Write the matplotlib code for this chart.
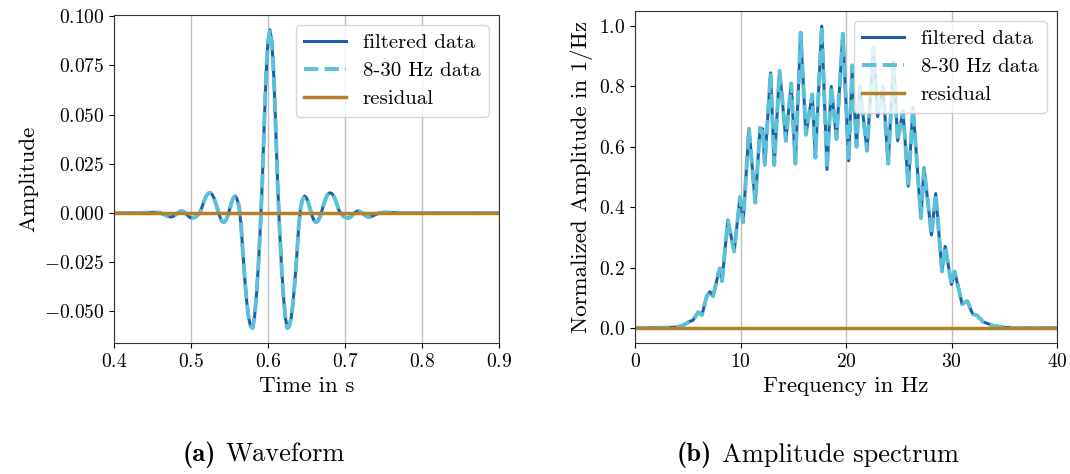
import numpy as np
import matplotlib
matplotlib.use("Agg")
import matplotlib.pyplot as plt
from matplotlib.font_manager import FontProperties

plt.rcParams['font.family'] = 'serif'
plt.rcParams['font.serif'] = ['cmr10']
plt.rcParams['mathtext.fontset'] = 'cm'
plt.rcParams['axes.formatter.use_mathtext'] = True

# waveform (time in s, amplitude)
t = [0.400, 0.430, 0.445, 0.4525, 0.460, 0.465,
     0.4700, 0.4725, 0.4750, 0.4775, 0.4800, 0.4825, 0.4850, 0.4875, 0.4900, 0.4925,
     0.4950, 0.4975, 0.5000, 0.5025, 0.5050, 0.5075, 0.5100, 0.5125, 0.5150, 0.5175,
     0.5200, 0.5225, 0.5250, 0.5275, 0.5300, 0.5325, 0.5350, 0.5375, 0.5400, 0.5425,
     0.5450, 0.5475, 0.5500, 0.5525, 0.5550, 0.5575, 0.5600, 0.5625, 0.5650, 0.5675,
     0.5700, 0.5725, 0.5750, 0.5775, 0.5800, 0.5825, 0.5850, 0.5875, 0.5900, 0.5925,
     0.5950, 0.5975, 0.6000, 0.6025, 0.6050, 0.6075, 0.6100, 0.6125, 0.6150, 0.6175,
     0.6200, 0.6225, 0.6250, 0.6275, 0.6300, 0.6325, 0.6350, 0.6375, 0.6400, 0.6425,
     0.6450, 0.6475, 0.6500, 0.6525, 0.6550, 0.6575, 0.6600, 0.6625, 0.6650, 0.6675,
     0.6700, 0.6725, 0.6750, 0.6775, 0.6800, 0.6825, 0.6850, 0.6875, 0.6900, 0.6925,
     0.6950, 0.6975, 0.7000, 0.7025, 0.7050, 0.7075, 0.7100, 0.7125, 0.7150, 0.7175,
     0.7200, 0.7225, 0.7250, 0.7275, 0.7300, 0.7325, 0.7350,
     0.740, 0.745, 0.7525, 0.760, 0.775, 0.900]
amp = [0.0, 0.0, 0.0002, 0.0003, 0.0001, -0.0008,
       -0.0017, -0.0020, -0.0020, -0.0016, -0.0009, -0.0001, 0.0006, 0.0010, 0.0008, 0.0001,
       -0.0010, -0.0020, -0.0025, -0.0025, -0.0022, -0.0015, -0.0005, 0.0010, 0.0038, 0.0066,
       0.0088, 0.0100, 0.0102, 0.0094, 0.0074, 0.0045, 0.0012, -0.0020, -0.0041, -0.0048,
       -0.0040, -0.0018, 0.0015, 0.0050, 0.0077, 0.0086, 0.0070, 0.0030, -0.0061, -0.0210,
       -0.0344, -0.0455, -0.0534, -0.0578, -0.0585, -0.0530, -0.0420, -0.0265, -0.0080, 0.0150,
       0.0440, 0.0700, 0.0870, 0.0930, 0.0870, 0.0700, 0.0440, 0.0150, -0.0080, -0.0265,
       -0.0420, -0.0530, -0.0585, -0.0578, -0.0534, -0.0455, -0.0344, -0.0210, -0.0061, 0.0030,
       0.0070, 0.0086, 0.0077, 0.0050, 0.0015, -0.0018, -0.0040, -0.0048, -0.0041, -0.0020,
       0.0012, 0.0045, 0.0074, 0.0094, 0.0102, 0.0100, 0.0088, 0.0066, 0.0038, 0.0010,
       -0.0005, -0.0015, -0.0022, -0.0025, -0.0025, -0.0020, -0.0010, 0.0001, 0.0008, 0.0010,
       0.0006, -0.0001, -0.0009, -0.0016, -0.0020, -0.0020, -0.0017,
       -0.0008, 0.0001, 0.0003, 0.0002, 0.0, 0.0]

# normalized amplitude spectrum (Hz, 1/Hz)
freq = [0.0, 2.0, 3.0, 4.0, 4.55, 5.0, 5.5, 6.0, 6.35, 6.8, 7.1, 7.4, 7.9, 8.05, 8.25,
        8.8, 9.4, 9.95, 10.25, 10.8, 11.4, 11.85, 12.0, 12.1, 12.3, 12.85, 13.2, 13.7,
        13.9, 14.3, 14.8, 15.2, 15.7, 16.2, 16.8, 17.1, 17.7, 18.2, 18.6, 19.1, 19.7,
        20.25, 20.6, 21.0, 21.3, 22.0, 22.6, 23.0, 23.5, 24.0, 24.5, 24.9, 25.4, 25.9,
        26.35, 27.1, 27.4, 28.1, 28.5, 29.1, 29.4, 30.0, 30.3, 31.0, 31.5, 32.0, 32.4,
        33.0, 34.0, 35.0, 36.0, 40.0]
spec = [0.0, 0.0005, 0.001, 0.003, 0.008, 0.018, 0.026, 0.052, 0.043, 0.105, 0.12, 0.105,
        0.18, 0.197, 0.155, 0.357, 0.253, 0.433, 0.35, 0.66, 0.415, 0.663, 0.645, 0.66,
        0.54, 0.845, 0.54, 0.852, 0.78, 0.62, 0.81, 0.544, 0.978, 0.64, 0.774, 0.564, 1.0,
        0.525, 0.80, 0.626, 0.975, 0.554, 0.87, 0.60, 0.80, 0.587, 0.93, 0.70, 0.80, 0.544,
        0.88, 0.62, 0.72, 0.47, 0.73, 0.364, 0.53, 0.308, 0.445, 0.187, 0.27, 0.144, 0.187,
        0.079, 0.089, 0.046, 0.042, 0.02, 0.007, 0.002, 0.0, 0.0]

dark_blue = '#1f5fa8'
cyan = '#5bc0d8'
gold = '#b5802a'

fig = plt.figure(figsize=(10.7, 4.74), dpi=100)
ax1 = fig.add_axes([114/1070, 131/474, 385/1070, 328/474])
ax2 = fig.add_axes([635/1070, 131/474, 422/1070, 332/474])

def draw(ax, x, y, xlim):
    ax.plot(x, y, color=dark_blue, lw=2.2, label='filtered data')
    ax.plot(x, y, color=cyan, lw=2.8, ls='--', label='8-30 Hz data')
    ax.plot(xlim, [0, 0], color=gold, lw=2.5, label='residual')
    ax.set_xlim(xlim)
    ax.grid(axis='x', color='#c0c0c0', lw=1)
    ax.tick_params(labelsize=14)
    for s in ax.spines.values():
        s.set_color('#333333')
    ax.legend(loc='upper right', fontsize=15, labelspacing=0.45)

draw(ax1, t, amp, [0.4, 0.9])
ax1.set_xlabel('Time in s', fontsize=16.5)
ax1.set_ylabel('Amplitude', fontsize=16.5)
ax1.set_xticks([0.4, 0.5, 0.6, 0.7, 0.8, 0.9])

draw(ax2, freq, spec, [0, 40])
ax2.set_xlabel('Frequency in Hz', fontsize=16.5)
ax2.set_ylabel('Normalized Amplitude in 1/Hz', fontsize=16.5)
ax2.set_xticks([0, 10, 20, 30, 40])

bold = FontProperties(fname=matplotlib.get_data_path() + '/fonts/ttf/cmb10.ttf', size=19)
cap_y = 1 - 455/474
fig.text(216/1070, cap_y, '(a)', ha='right', va='center', fontproperties=bold)
fig.text(226/1070, cap_y, 'Waveform', ha='left', va='center', fontsize=19)
fig.text(712/1070, cap_y, '(b)', ha='right', va='center', fontproperties=bold)
fig.text(722/1070, cap_y, 'Amplitude spectrum', ha='left', va='center', fontsize=19)

fig.savefig('out.png', dpi=100)
